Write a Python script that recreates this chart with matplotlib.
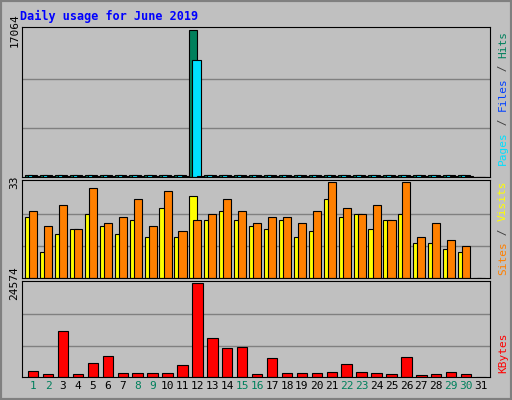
import numpy as np
import matplotlib.pyplot as plt

days = np.arange(1, 32)
weekend = [1, 2, 8, 9, 15, 16, 22, 23, 29, 30]

hits = [260] * 11 + [17064] + [260] * 18 + [0]
files = [180] * 11 + [13580] + [180] * 18 + [0]
pages = [120] * 11 + [120] + [120] * 18 + [0]
visits = [21, 9, 15, 17, 22, 18, 15, 20, 14, 24, 14, 28, 20, 23, 20, 18, 17, 20,
          14, 16, 27, 21, 22, 17, 20, 22, 12, 12, 10, 9, 0]
sites = [23, 18, 25, 17, 31, 19, 21, 27, 18, 30, 16, 20, 22, 27, 23, 19, 21, 21,
         19, 23, 33, 24, 22, 25, 20, 33, 14, 19, 13, 11, 0]
kbytes = [1520, 715, 11970, 715, 3660, 5540, 980, 980, 980, 980, 3130, 24574,
          10100, 7690, 7950, 715, 5000, 980, 980, 980, 1250, 3400, 1250, 980,
          715, 5270, 450, 715, 1250, 715, 0]

W, H = 512, 400
fig = plt.figure(figsize=(W / 100, H / 100), dpi=100, facecolor='#C0C0C0')
mono = 'DejaVu Sans Mono'

# outer bevel
fig.add_artist(plt.Rectangle((0, 0), 1, 1, transform=fig.transFigure, fill=False,
                             edgecolor='#808080', linewidth=3))
fig.text(20 / W, 1 - 16 / H, 'Daily usage for June 2019', color='#0000FF',
         fontsize=8.5, fontweight='bold', family=mono, va='center')


def panel(y0, y1):
    ax = fig.add_axes([22 / W, 1 - y1 / H, 468 / W, (y1 - y0) / H])
    ax.set_facecolor('#C0C0C0')
    ax.set_xlim(0.25, 31.6)
    for s in ax.spines.values():
        s.set_color('black')
    ax.set_xticks([])
    return ax


def grid(ax, top):
    ax.set_ylim(0, top * 1.02)
    for f in (1 / 3, 2 / 3):
        ax.axhline(top * f, color='#808080', linewidth=1, zorder=0)
    ax.set_yticks([top])
    ax.set_yticklabels([str(top)], rotation=90, va='center', family=mono, fontsize=8)
    ax.tick_params(axis='y', length=0, pad=2)


def side_label(y_bottom, parts):
    y = y_bottom
    for txt, col in parts:
        fig.text(503 / W, 1 - y / H, txt, color=col, rotation=90, family=mono,
                 fontsize=8, ha='center', va='bottom')
        y -= len(txt) * 6.7


ax1 = panel(27, 177)
grid(ax1, 17064)
ax1.bar(days - 0.3, hits, width=0.5, color='#00805C', edgecolor='black', linewidth=0.8)
ax1.bar(days - 0.05, files, width=0.6, color='#00E0FF', edgecolor='black', linewidth=0.8)
ax1.bar(days + 0.2, pages, width=0.5, color='#00C0FF', edgecolor='black', linewidth=0.8)
side_label(165, [('Pages', '#00E0FF'), (' / ', '#404040'), ('Files', '#0040FF'),
                 (' / ', '#404040'), ('Hits', '#00805C')])

ax2 = panel(180, 278)
grid(ax2, 33)
ax2.bar(days - 0.27, visits, width=0.54, color='#FFFF00', edgecolor='black', linewidth=0.8)
ax2.bar(days, sites, width=0.54, color='#FF8000', edgecolor='black', linewidth=0.8)
side_label(275, [('Sites', '#FF8000'), (' / ', '#404040'), ('Visits', '#FFFF00')])

ax3 = panel(281, 377)
grid(ax3, 24574)
ax3.bar(days, kbytes, width=0.7, color='#FF0000', edgecolor='black', linewidth=0.8)
side_label(373, [('KBytes', '#FF0000')])

ax3.set_xticks(days)
ax3.set_xticklabels([str(d) for d in days], family=mono, fontsize=8)
ax3.tick_params(axis='x', length=0, pad=3)
for lab, d in zip(ax3.get_xticklabels(), days):
    lab.set_color('#00805C' if d in weekend else 'black')

fig.savefig('out.png', dpi=100, facecolor='#C0C0C0')
